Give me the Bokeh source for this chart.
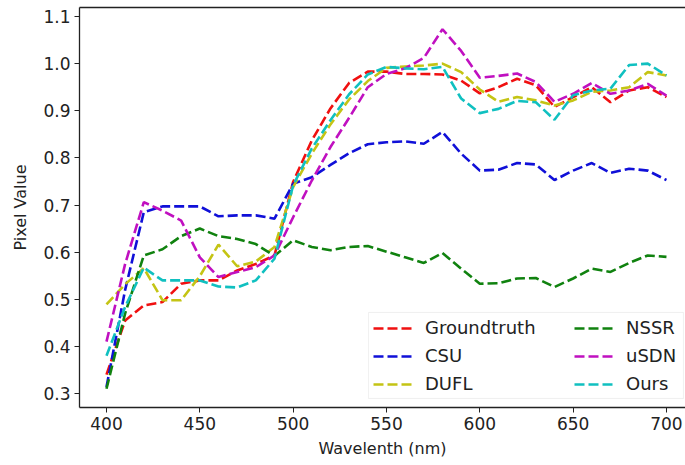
from bokeh.plotting import figure
from bokeh.models import (Range1d, FixedTicker, PrintfTickFormatter, Legend,
                          LegendItem, LinearAxis, BoxAnnotation)
from bokeh.embed import file_html
from bokeh.resources import INLINE

# ---------------- data ----------------
wavelength = list(range(400, 701, 10))

groundtruth = [0.340, 0.455, 0.487, 0.494, 0.533, 0.540, 0.540, 0.561, 0.575, 0.593,
               0.749, 0.837, 0.905, 0.959, 0.983, 0.983, 0.978, 0.978, 0.977, 0.964,
               0.937, 0.950, 0.968, 0.954, 0.908, 0.929, 0.950, 0.918, 0.943, 0.950,
               0.929]
csu = [0.314, 0.520, 0.685, 0.697, 0.697, 0.697, 0.676, 0.678, 0.678, 0.671,
       0.745, 0.759, 0.785, 0.810, 0.829, 0.833, 0.835, 0.830, 0.855, 0.809,
       0.773, 0.775, 0.789, 0.786, 0.753, 0.773, 0.789, 0.768, 0.777, 0.773,
       0.753]
dufl = [0.489, 0.532, 0.566, 0.498, 0.498, 0.549, 0.616, 0.570, 0.580, 0.611,
        0.738, 0.809, 0.871, 0.924, 0.963, 0.991, 0.994, 0.996, 1.000, 0.982,
        0.945, 0.919, 0.929, 0.922, 0.911, 0.922, 0.940, 0.943, 0.950, 0.982,
        0.975]
nssr = [0.310, 0.470, 0.593, 0.606, 0.634, 0.650, 0.634, 0.628, 0.617, 0.592,
        0.625, 0.611, 0.604, 0.611, 0.613, 0.601, 0.589, 0.577, 0.598, 0.565,
        0.533, 0.534, 0.544, 0.545, 0.526, 0.544, 0.565, 0.558, 0.577, 0.593,
        0.590]
usdn = [0.410, 0.575, 0.706, 0.688, 0.667, 0.589, 0.547, 0.558, 0.568, 0.593,
        0.674, 0.752, 0.823, 0.885, 0.950, 0.978, 0.990, 1.012, 1.073, 1.027,
        0.970, 0.974, 0.979, 0.961, 0.919, 0.936, 0.959, 0.936, 0.943, 0.957,
        0.932]
ours = [0.380, 0.484, 0.567, 0.540, 0.540, 0.540, 0.527, 0.525, 0.540, 0.586,
        0.742, 0.820, 0.880, 0.935, 0.977, 0.993, 0.990, 0.988, 0.993, 0.926,
        0.895, 0.904, 0.921, 0.918, 0.881, 0.933, 0.943, 0.947, 0.997, 1.000,
        0.975]

series_names = ["Groundtruth", "CSU", "DUFL", "NSSR", "uSDN", "Ours"]
series_values = [groundtruth, csu, dufl, nssr, usdn, ours]
series_colors = ["#f01010", "#1010d8", "#c4c414", "#10820f", "#c010c0", "#10c0c0"]

x_ticks = [400, 450, 500, 550, 600, 650, 700]
y_ticks = [0.3, 0.4, 0.5, 0.6, 0.7, 0.8, 0.9, 1.0, 1.1]

FONT = "DejaVu Sans"

# ---------------- figure ----------------
p = figure(width=685, height=465, output_backend="svg", toolbar_location=None,
           x_range=Range1d(385.54, 710.2), y_range=Range1d(0.2703, 1.1191),
           min_border_left=79, min_border_right=0, min_border_top=7,
           min_border_bottom=58)
p.background_fill_color = "white"
p.border_fill_color = "white"
p.outline_line_color = None
p.xgrid.visible = False
p.ygrid.visible = False

renderers = []
for name, vals, col in zip(series_names, series_values, series_colors):
    r = p.line(wavelength, vals, line_color=col, line_width=2.6, line_dash="10 4")
    renderers.append(r)

# axes
for ax in (p.xaxis[0], p.yaxis[0]):
    ax.axis_line_color = "#222222"
    ax.axis_line_width = 1.3
    ax.major_tick_line_color = "#222222"
    ax.major_tick_out = 5
    ax.major_tick_in = 0
    ax.minor_tick_out = 0
    ax.minor_tick_in = 0
    ax.major_label_text_font = FONT
    ax.major_label_text_font_size = "17px"
    ax.major_label_text_color = "#222222"
    ax.axis_label_text_font = FONT
    ax.axis_label_text_font_size = "16px"
    ax.axis_label_text_font_style = "normal"
    ax.axis_label_text_color = "#222222"
    ax.major_label_standoff = 4

p.xaxis.ticker = FixedTicker(ticks=x_ticks)
p.yaxis.ticker = FixedTicker(ticks=y_ticks)
p.yaxis.formatter = PrintfTickFormatter(format="%.1f")
p.xaxis.axis_label = "Wavelenth (nm)"
p.yaxis.axis_label = "Pixel Value"
p.xaxis.axis_label_standoff = 6
p.yaxis.axis_label_standoff = 10

# top spine
top = LinearAxis(ticker=FixedTicker(ticks=[]), major_label_text_font_size="0px",
                 major_tick_out=0, major_tick_in=0, minor_tick_out=0, minor_tick_in=0,
                 axis_line_color="#222222", axis_line_width=1.3)
p.add_layout(top, "above")

# legend background box
box = BoxAnnotation(left=540.4, right=709.1, bottom=0.2894, top=0.4719,
                    fill_color="white", fill_alpha=0.85,
                    line_color="#cccccc", line_width=1)
p.add_layout(box)

def make_legend(idx, loc):
    items = [LegendItem(label=series_names[i], renderers=[renderers[i]]) for i in idx]
    lg = Legend(items=items, location=loc, padding=0, margin=0, spacing=7,
                glyph_width=39, glyph_height=20, label_height=20,
                label_standoff=13, label_text_font=FONT,
                label_text_font_size="18px", label_text_color="#222222",
                border_line_color=None, background_fill_alpha=0.0)
    return lg

p.add_layout(make_legend([0, 1, 2], (294, 13)))
p.add_layout(make_legend([3, 4, 5], (495, 13)))

open("out.html", "w").write(file_html(p, INLINE))
